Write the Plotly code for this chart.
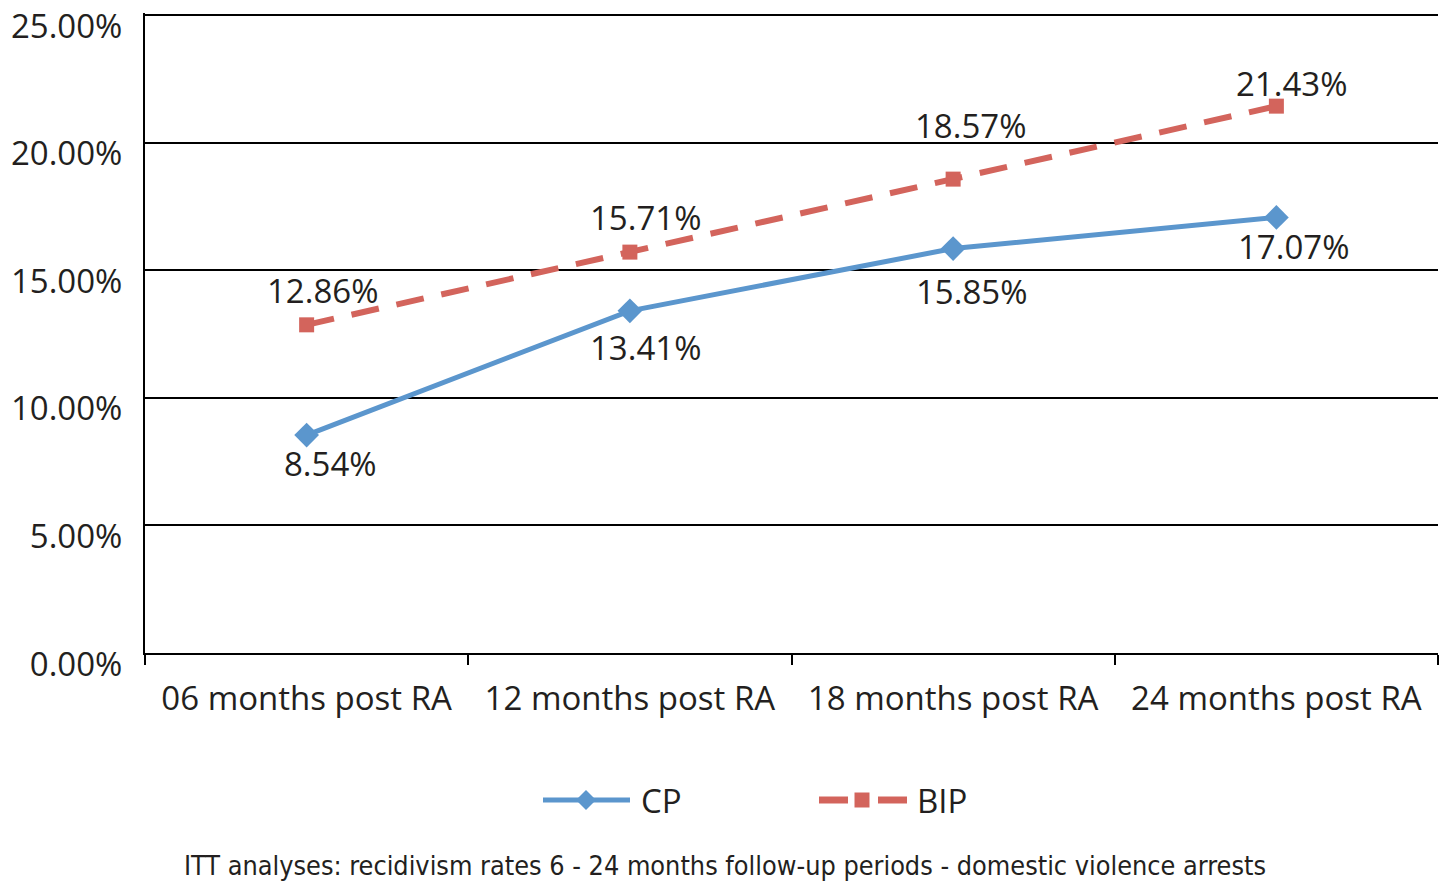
import plotly.graph_objects as go

categories = ["06 months post RA", "12 months post RA", "18 months post RA", "24 months post RA"]
cp_values = [8.54, 13.41, 15.85, 17.07]
bip_values = [12.86, 15.71, 18.57, 21.43]
y_ticks = [0, 5, 10, 15, 20, 25]
y_tick_labels = ["0.00%", "5.00%", "10.00%", "15.00%", "20.00%", "25.00%"]
series_names = ["CP", "BIP"]
caption = "ITT analyses: recidivism rates 6 - 24 months follow-up periods - domestic violence arrests"

# label offsets (style only)
cp_label_yshift = [-28, -37, -43, -29]
bip_label_yshift = [34, 35, 54, 23]
cp_label_xshift = [24, 16, 18, 17]
bip_label_xshift = [16, 16, 17, 15]

CP_COLOR = "#5B96CD"
BIP_COLOR = "#D3645C"
TEXT = "#231f20"
FONT = "Open Sans"
FS = 33

W, H = 1441, 885
ML, MR, MT, MB = 145, 3, 13, 232
PW, PH = W - ML - MR, H - MT - MB


def px(x):
    return (x - ML) / PW


def py(y):
    return (H - MB - y) / PH


fig = go.Figure()
fig.add_trace(go.Scatter(
    x=categories, y=cp_values, name=series_names[0], mode="lines+markers",
    line=dict(color=CP_COLOR, width=5),
    marker=dict(symbol="diamond", size=19, color=CP_COLOR),
))
fig.add_trace(go.Scatter(
    x=categories, y=bip_values, name=series_names[1], mode="lines+markers",
    line=dict(color=BIP_COLOR, width=6, dash="28px,18px"),
    marker=dict(symbol="square", size=15, color=BIP_COLOR),
))

for i, c in enumerate(categories):
    fig.add_annotation(x=c, y=cp_values[i], text=f"{cp_values[i]:.2f}%", showarrow=False,
                       xshift=cp_label_xshift[i], yshift=cp_label_yshift[i],
                       font=dict(family=FONT, size=FS, color=TEXT))
    fig.add_annotation(x=c, y=bip_values[i], text=f"{bip_values[i]:.2f}%", showarrow=False,
                       xshift=bip_label_xshift[i], yshift=bip_label_yshift[i],
                       font=dict(family=FONT, size=FS, color=TEXT))

# caption
fig.add_annotation(x=px(725), y=py(865), xref="paper", yref="paper", text=caption, showarrow=False,
                   xanchor="center", yanchor="middle",
                   font=dict(family="DejaVu Sans Condensed, Open Sans", size=26.8, color=TEXT))

# custom legend (drawn in paper/pixel space)
ly = py(800)
fig.add_shape(type="line", xref="paper", yref="paper", x0=px(543), x1=px(630), y0=ly, y1=ly,
              line=dict(color=CP_COLOR, width=5))
fig.add_shape(type="path", xref="paper", yref="paper", xsizemode="pixel", ysizemode="pixel",
              xanchor=px(586), yanchor=ly, path="M -10 0 L 0 10 L 10 0 L 0 -10 Z",
              fillcolor=CP_COLOR, line=dict(width=0))
fig.add_annotation(x=px(639), y=ly, xref="paper", yref="paper", text=series_names[0], showarrow=False,
                   xanchor="left", yanchor="middle", font=dict(family=FONT, size=FS, color=TEXT))
for a, b in [(819, 848), (878, 907)]:
    fig.add_shape(type="line", xref="paper", yref="paper", x0=px(a), x1=px(b), y0=ly, y1=ly,
                  line=dict(color=BIP_COLOR, width=7))
fig.add_shape(type="rect", xref="paper", yref="paper", xsizemode="pixel", ysizemode="pixel",
              xanchor=px(862), yanchor=ly, x0=-7.5, x1=7.5, y0=-7.5, y1=7.5,
              fillcolor=BIP_COLOR, line=dict(width=0))
fig.add_annotation(x=px(915), y=ly, xref="paper", yref="paper", text=series_names[1], showarrow=False,
                   xanchor="left", yanchor="middle", font=dict(family=FONT, size=FS, color=TEXT))

fig.update_layout(
    width=W, height=H,
    margin=dict(l=ML, r=MR, t=MT, b=MB, autoexpand=False),
    paper_bgcolor="white", plot_bgcolor="white",
    font=dict(family=FONT, color=TEXT),
    showlegend=False,
    xaxis=dict(
        type="category", tickson="boundaries", ticks="outside", ticklen=10, tickwidth=2,
        tickcolor="black", showgrid=False, showline=True, linecolor="black", linewidth=2,
        tickfont=dict(family=FONT, size=FS, color=TEXT), range=[-0.5, 3.5],
        ticklabelstandoff=15, automargin=False,
    ),
    yaxis=dict(
        range=[0, 25.08], tickvals=y_ticks, ticktext=y_tick_labels,
        showgrid=True, gridcolor="black", gridwidth=2, zeroline=False,
        showline=True, linecolor="black", linewidth=2, ticks="",
        tickfont=dict(family=FONT, size=FS, color=TEXT), ticklabelstandoff=14,
        ticklabelshift=11, ticklabeloverflow="allow", automargin=False,
    ),
)

fig.write_html("out.html", config={"displayModeBar": False},
               post_script="document.body.style.margin='0';")
